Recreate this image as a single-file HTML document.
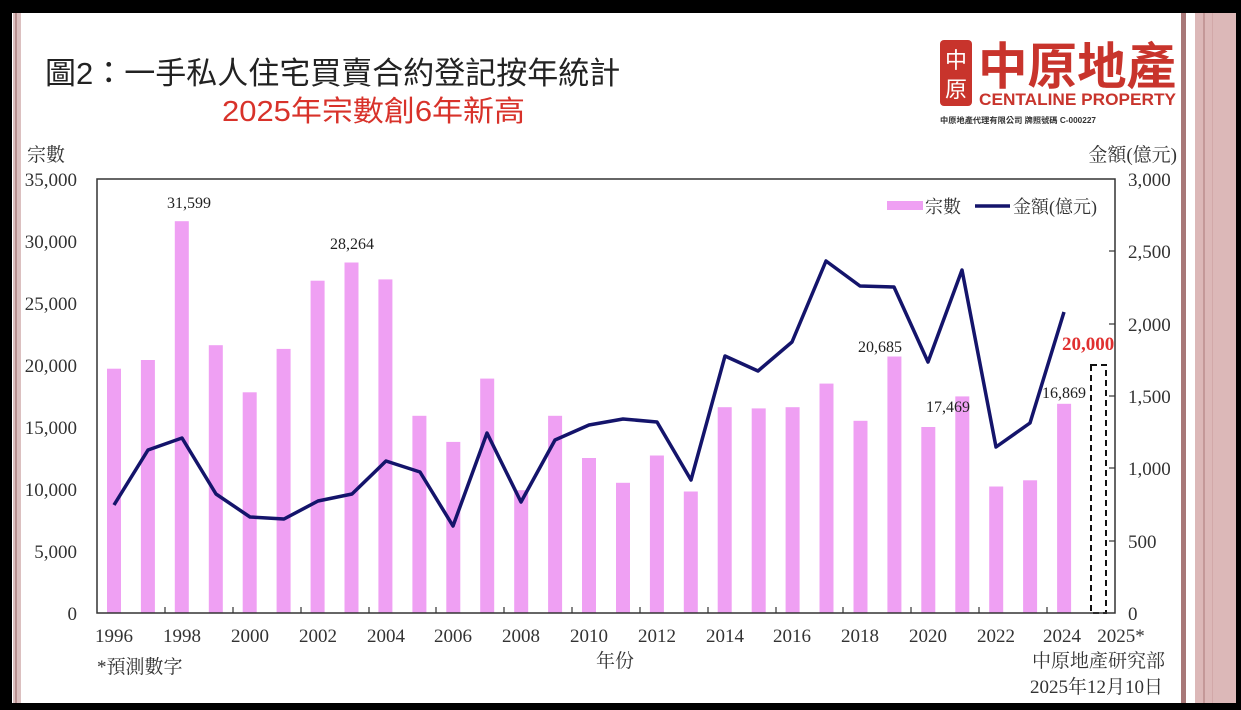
<!DOCTYPE html>
<html><head><meta charset="utf-8"><style>
html,body{margin:0;padding:0;background:#000;}
body{width:1241px;height:710px;position:relative;overflow:hidden;}
svg{position:absolute;left:0;top:0;}
</style></head><body>
<svg width="1241" height="710" viewBox="0 0 1241 710" xmlns="http://www.w3.org/2000/svg">
<rect x="0" y="0" width="1241" height="710" fill="#000"/>
<rect x="12" y="13" width="1224" height="690" fill="#fff"/>
<rect x="13" y="13" width="8" height="690" fill="#dcc0c0"/>
<rect x="15" y="13" width="2" height="690" fill="#b89090"/>
<rect x="1181" y="13" width="5" height="690" fill="#a87878"/>
<rect x="1195" y="13" width="41" height="690" fill="#dcb8b8"/>
<rect x="1203" y="13" width="2" height="690" fill="#c49898"/>
<rect x="1212" y="13" width="1" height="690" fill="#d2a8a8"/>

<g font-family="'Liberation Sans','Noto Sans CJK TC',sans-serif">
<text x="45" y="84" font-size="31" fill="#222">圖2：一手私人住宅買賣合約登記按年統計</text>
<text x="222" y="121" font-size="29" fill="#d8322a" textLength="303" lengthAdjust="spacingAndGlyphs">2025年宗數創6年新高</text>
</g>

<!-- logo -->
<rect x="940" y="40" width="32" height="66" rx="4" fill="#c8342c"/>
<text x="956" y="68" font-size="22" fill="#fff" text-anchor="middle" font-family="'Noto Sans CJK TC',sans-serif">中</text>
<text x="956" y="97" font-size="22" fill="#fff" text-anchor="middle" font-family="'Noto Sans CJK TC',sans-serif">原</text>
<text x="978" y="84" font-size="50" font-weight="bold" fill="#c8342c" font-family="'Noto Sans CJK TC',sans-serif" textLength="198" lengthAdjust="spacingAndGlyphs">中原地產</text>
<text x="979" y="105" font-size="17" font-weight="bold" fill="#c8342c" font-family="'Liberation Sans',sans-serif" textLength="197" lengthAdjust="spacingAndGlyphs">CENTALINE PROPERTY</text>
<text x="940" y="123" font-size="8" font-weight="bold" fill="#333" font-family="'Liberation Sans','Noto Sans CJK TC',sans-serif" textLength="156" lengthAdjust="spacingAndGlyphs">中原地產代理有限公司  牌照號碼 C-000227</text>

<g font-family="'Liberation Serif','Noto Serif CJK SC',serif" fill="#333">
<text x="27" y="161" font-size="19">宗數</text>
<text x="1177" y="161" font-size="19" text-anchor="end">金額(億元)</text>
<g font-size="19" text-anchor="end">
<text x="77" y="620">0</text><text x="77" y="558">5,000</text><text x="77" y="496">10,000</text><text x="77" y="434">15,000</text><text x="77" y="372">20,000</text><text x="77" y="310">25,000</text><text x="77" y="248">30,000</text><text x="77" y="186">35,000</text>
</g>
<g font-size="19" text-anchor="start">
<text x="1128" y="620">0</text><text x="1128" y="548">500</text><text x="1128" y="475">1,000</text><text x="1128" y="403">1,500</text><text x="1128" y="331">2,000</text><text x="1128" y="258">2,500</text><text x="1128" y="186">3,000</text>
</g>
<g font-size="19" text-anchor="middle">
<text x="114" y="642">1996</text><text x="182" y="642">1998</text><text x="250" y="642">2000</text><text x="318" y="642">2002</text><text x="386" y="642">2004</text><text x="453" y="642">2006</text><text x="521" y="642">2008</text><text x="589" y="642">2010</text><text x="657" y="642">2012</text><text x="725" y="642">2014</text><text x="792" y="642">2016</text><text x="860" y="642">2018</text><text x="928" y="642">2020</text><text x="996" y="642">2022</text><text x="1062" y="642">2024</text><text x="1121" y="642">2025*</text>
</g>
<text x="615" y="667" font-size="19" text-anchor="middle">年份</text>
<text x="97" y="673" font-size="19">*預測數字</text>
<text x="1165" y="667" font-size="19" text-anchor="end">中原地產研究部</text>
<text x="1163" y="693" font-size="19" text-anchor="end">2025年12月10日</text>
</g>

<!-- bars -->
<g fill="#efa0f3" transform="translate(0,613) scale(1,-1)">
<rect x="107" y="0" width="14" height="244.3"/>
<rect x="140.9" y="0" width="14" height="253"/>
<rect x="174.8" y="0" width="14" height="391.8"/>
<rect x="208.8" y="0" width="14" height="267.8"/>
<rect x="242.7" y="0" width="14" height="220.7"/>
<rect x="276.6" y="0" width="14" height="264.1"/>
<rect x="310.6" y="0" width="14" height="332.3"/>
<rect x="344.5" y="0" width="14" height="350.5"/>
<rect x="378.4" y="0" width="14" height="333.6"/>
<rect x="412.4" y="0" width="14" height="197.2"/>
<rect x="446.3" y="0" width="14" height="171.1"/>
<rect x="480.2" y="0" width="14" height="234.4"/>
<rect x="514.2" y="0" width="14" height="122.8"/>
<rect x="548.1" y="0" width="14" height="197.2"/>
<rect x="582" y="0" width="14" height="155"/>
<rect x="616" y="0" width="14" height="130.2"/>
<rect x="649.9" y="0" width="14" height="157.5"/>
<rect x="683.8" y="0" width="14" height="121.5"/>
<rect x="717.7" y="0" width="14" height="205.8"/>
<rect x="751.7" y="0" width="14" height="204.6"/>
<rect x="785.6" y="0" width="14" height="205.8"/>
<rect x="819.5" y="0" width="14" height="229.4"/>
<rect x="853.5" y="0" width="14" height="192.2"/>
<rect x="887.4" y="0" width="14" height="256.5"/>
<rect x="921.3" y="0" width="14" height="186"/>
<rect x="955.3" y="0" width="14" height="216.6"/>
<rect x="989.2" y="0" width="14" height="126.5"/>
<rect x="1023.1" y="0" width="14" height="132.7"/>
<rect x="1057.1" y="0" width="14" height="209.2"/>
</g>
<rect x="1091" y="365" width="15" height="248" fill="none" stroke="#111" stroke-width="2" stroke-dasharray="6,4"/>

<polyline fill="none" stroke="#14146b" stroke-width="3.5" stroke-linejoin="round" points="114,505 148,450 182,438 216,494 250,517 284,519 318,501 352,494 386,461 420,472 453,526 487,433 521,502 555,440 589,425 623,419 657,422 691,480 725,356 758,371 792,342 826,261 860,286 894,287 928,362 962,270 996,447 1030,423 1064,312"/>

<!-- frame -->
<rect x="97" y="179" width="1018" height="434" fill="none" stroke="#333" stroke-width="1.5"/>
<g stroke="#333" stroke-width="1.2">
<line x1="165" y1="613" x2="165" y2="607"/><line x1="233" y1="613" x2="233" y2="607"/><line x1="301" y1="613" x2="301" y2="607"/><line x1="369" y1="613" x2="369" y2="607"/><line x1="436" y1="613" x2="436" y2="607"/><line x1="504" y1="613" x2="504" y2="607"/><line x1="572" y1="613" x2="572" y2="607"/><line x1="640" y1="613" x2="640" y2="607"/><line x1="708" y1="613" x2="708" y2="607"/><line x1="776" y1="613" x2="776" y2="607"/><line x1="843" y1="613" x2="843" y2="607"/><line x1="911" y1="613" x2="911" y2="607"/><line x1="979" y1="613" x2="979" y2="607"/><line x1="1047" y1="613" x2="1047" y2="607"/>
<line x1="1115" y1="541" x2="1109" y2="541"/><line x1="1115" y1="468" x2="1109" y2="468"/><line x1="1115" y1="396" x2="1109" y2="396"/><line x1="1115" y1="324" x2="1109" y2="324"/><line x1="1115" y1="251" x2="1109" y2="251"/>
</g>

<!-- legend -->
<rect x="887" y="201" width="36" height="9" fill="#efa0f3"/>
<line x1="975" y1="206" x2="1010" y2="206" stroke="#14146b" stroke-width="3.5"/>
<g font-family="'Liberation Serif','Noto Serif CJK SC',serif" font-size="18" fill="#333">
<text x="925" y="213">宗數</text>
<text x="1013" y="213">金額(億元)</text>
</g>

<!-- data labels -->
<g font-family="'Liberation Serif',serif" font-size="16" fill="#222" text-anchor="middle">
<text x="189" y="208">31,599</text>
<text x="352" y="249">28,264</text>
<text x="880" y="352">20,685</text>
<text x="948" y="412">17,469</text>
<text x="1064" y="398">16,869</text>
</g>
<text x="1062" y="350" font-family="'Liberation Serif',serif" font-size="19" font-weight="bold" fill="#e03030">20,000</text>
</svg>
</body></html>
